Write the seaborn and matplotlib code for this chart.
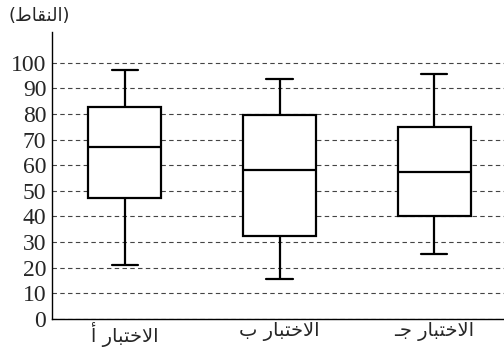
import numpy as np
import pandas as pd
import matplotlib
matplotlib.use('Agg')
import matplotlib.pyplot as plt
import seaborn as sns

# data: min, q1, median, q3, max per test
test_names = ['الاختبار أ', 'الاختبار ب', 'الاختبار جـ']
test_a = [21, 47, 67, 82.5, 97]
test_b = [15.5, 32.5, 58, 79.5, 93.5]
test_c = [25.5, 40, 57.5, 75, 95.5]
y_ticks = list(range(0, 101, 10))
y_title = '(النقاط)'

# matplotlib does no arabic shaping, so map letters to presentation forms
FORMS = {
    'ا': ('\uFE8D', '\uFE8E', None, None),
    'أ': ('\uFE83', '\uFE84', None, None),
    'ر': ('\uFEAD', '\uFEAE', None, None),
    'ب': ('\uFE8F', '\uFE90', '\uFE91', '\uFE92'),
    'ت': ('\uFE95', '\uFE96', '\uFE97', '\uFE98'),
    'ج': ('\uFE9D', '\uFE9E', '\uFE9F', '\uFEA0'),
    'خ': ('\uFEA5', '\uFEA6', '\uFEA7', '\uFEA8'),
    'ط': ('\uFEC1', '\uFEC2', '\uFEC3', '\uFEC4'),
    'ق': ('\uFED5', '\uFED6', '\uFED7', '\uFED8'),
    'ل': ('\uFEDD', '\uFEDE', '\uFEDF', '\uFEE0'),
    'ن': ('\uFEE5', '\uFEE6', '\uFEE7', '\uFEE8'),
}


def dual(ch):
    return ch == 'ـ' or (ch in FORMS and FORMS[ch][2] is not None)


def joins(ch):
    return ch == 'ـ' or ch in FORMS


def shape(s):
    out = []
    i = 0
    while i < len(s):
        c = s[i]
        prev = s[i - 1] if i > 0 else ''
        nxt = s[i + 1] if i + 1 < len(s) else ''
        if c not in FORMS:
            out.append(c)
            i += 1
            continue
        jp = dual(prev)
        if c == 'ل' and nxt == 'ا':
            out.append('\uFEFC' if jp else '\uFEFB')
            i += 2
            continue
        jn = dual(c) and joins(nxt)
        iso, fin, ini, med = FORMS[c]
        if jp and jn:
            out.append(med)
        elif jp:
            out.append(fin)
        elif jn:
            out.append(ini)
        else:
            out.append(iso)
        i += 1
    vis = ''.join(reversed(out))
    return vis.translate(str.maketrans('()', ')('))


labels = [shape(t) for t in test_names]
df = pd.DataFrame({
    'test': [labels[0]] * len(test_a) + [labels[1]] * len(test_b) + [labels[2]] * len(test_c),
    'score': test_a + test_b + test_c,
})

sns.set_style('white')
plt.rcParams['font.family'] = ['Liberation Serif', 'DejaVu Sans']

fig = plt.figure(figsize=(5.04, 3.54), dpi=100)
ax = fig.add_axes([0.103, 0.099, 0.897, 0.811])

sns.boxplot(data=df, x='test', y='score', order=labels, whis=(0, 100),
            width=0.47, color='white', linecolor='black', linewidth=1.6,
            capwidths=0.17, ax=ax)

ax.set_xlim(-0.47, 2.45)
ax.set_ylim(0, 112)
ax.set_yticks(y_ticks)
ax.yaxis.grid(True, linestyle=(0, (4, 3)), color='#444444', linewidth=0.8)
ax.set_axisbelow(True)
for s in ['top', 'right']:
    ax.spines[s].set_visible(False)
for s in ['left', 'bottom']:
    ax.spines[s].set_color('black')
    ax.spines[s].set_linewidth(1.0)
ax.tick_params(axis='y', length=0, pad=4, labelsize=17)
ax.tick_params(axis='x', length=0, pad=2)
for t in ax.get_xticklabels():
    t.set_fontfamily(['DejaVu Sans'])
    t.set_fontsize(14)
ax.set_xlabel('')
ax.set_ylabel('')

fig.text(0.016, 0.955, shape(y_title), fontsize=13, family=['DejaVu Sans'],
         ha='left', va='center')

fig.savefig('out.png', dpi=100)
